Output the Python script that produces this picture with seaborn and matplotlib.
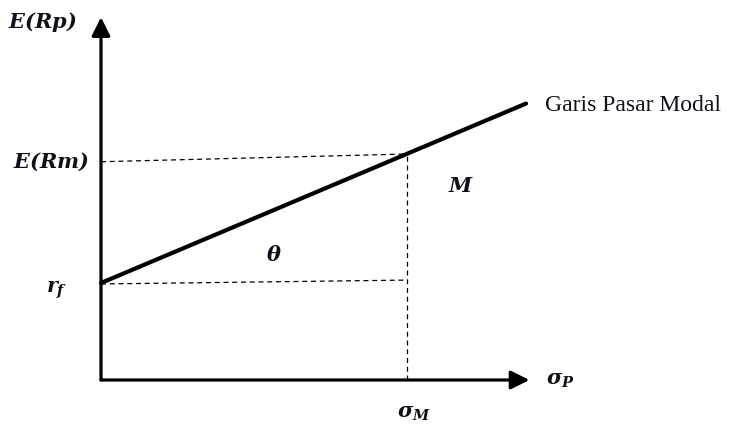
import matplotlib
matplotlib.use("Agg")
import matplotlib.pyplot as plt
import seaborn as sns

# data in diagram units (sigma_M = 1, r_f = 1)
cml_sigma = [0.0, 1.389]
cml_return = [1.0, 2.85]
rm_dash_sigma = [0.0, 1.0]
rm_dash_return = [2.25, 2.33]
rf_dash_sigma = [0.0, 1.0]
rf_dash_return = [0.99, 1.03]
sigma_m_dash_sigma = [1.0, 1.0]
sigma_m_dash_return = [0.0, 2.33]
x_axis_end = 1.40
y_axis_end = 3.74

sns.set_theme(style="white")
plt.rcParams["mathtext.fontset"] = "custom"
plt.rcParams["mathtext.it"] = "DejaVu Serif:bold:italic"
plt.rcParams["mathtext.rm"] = "DejaVu Serif:bold:italic"
plt.rcParams["mathtext.bf"] = "DejaVu Serif:bold:italic"

fig = plt.figure(figsize=(7.33, 4.33), dpi=100)
ax = fig.add_axes([0, 0, 1, 1])
ax.set_xlim(-101 / 306, 632 / 306)
ax.set_ylim(-53 / 97, 380 / 97)
ax.axis("off")

ink = "#10101a"

# axes with arrows
arrow = dict(arrowstyle="-|>", color="black", lw=2.3, mutation_scale=28, shrinkA=0, shrinkB=0)
ax.annotate("", xy=(x_axis_end, 0), xytext=(0, 0), arrowprops=arrow)
ax.annotate("", xy=(0, y_axis_end), xytext=(0, 0), arrowprops=arrow)

# dashed guides
dash = dict(color="black", lw=0.9, linestyle=(0, (4, 3)))
ax.plot(rm_dash_sigma, rm_dash_return, **dash)
ax.plot(rf_dash_sigma, rf_dash_return, **dash)
ax.plot(sigma_m_dash_sigma, sigma_m_dash_return, **dash)

# capital market line
sns.lineplot(x=cml_sigma, y=cml_return, ax=ax, color="black", lw=3.0)

lab = dict(fontsize=15, color=ink, ha="center", va="center")
ax.text(-0.19, 3.69, "$E(Rp)$", **lab)
ax.text(-0.163, 2.25, "$E(Rm)$", **lab)
ax.text(-0.144, 0.93, "$r_f$", **lab)
ax.text(1.50, 0.0, r"$\sigma_P$", **lab)
ax.text(1.023, -0.34, r"$\sigma_M$", **lab)
ax.text(0.565, 1.29, r"$\theta$", **lab)
ax.text(1.176, 2.0, "$M$", **lab)
ax.text(1.451, 2.835, "Garis Pasar Modal", fontsize=17, color=ink,
        family="Liberation Serif", ha="left", va="center")

fig.savefig("out.png", dpi=100)
